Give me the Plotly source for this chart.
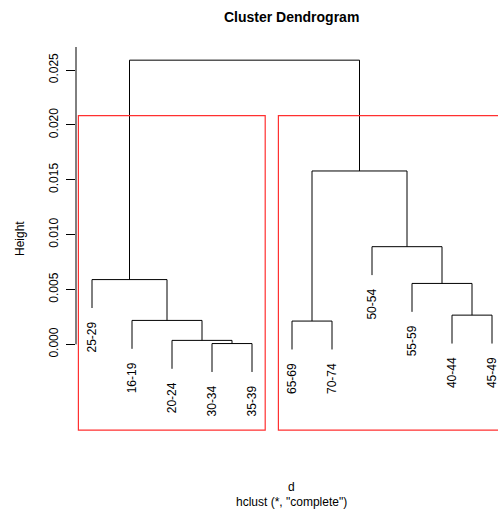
import plotly.graph_objects as go

# ---- data ----
leaf_labels = ["25-29", "16-19", "20-24", "30-34", "35-39",
               "65-69", "70-74", "50-54", "55-59", "40-44", "45-49"]
# merges: (left child, right child, height); children are leaf labels or merge ids "m#"
merge_left = ["30-34", "20-24", "16-19", "65-69", "40-44", "55-59", "25-29", "50-54", "m4", "m7"]
merge_right = ["35-39", "m1", "m2", "70-74", "45-49", "m5", "m3", "m6", "m8", "m9"]
merge_height = [0.00007, 0.00036, 0.00218, 0.00212, 0.00266, 0.00555, 0.0059, 0.0089, 0.0158, 0.0259]
cluster_sizes = [5, 6]
y_tick_vals = [0.0, 0.005, 0.010, 0.015, 0.020, 0.025]
y_tick_text = ["0.000", "0.005", "0.010", "0.015", "0.020", "0.025"]

hang = 0.1 * max(merge_height)
leaf_x = {lab: i + 1 for i, lab in enumerate(leaf_labels)}

fig = go.Figure()

node_x = {}
node_h = {}
seg_x, seg_y = [], []
leaf_bottom = {}

def child_pos(c, parent_h):
    if c in leaf_x:
        yb = parent_h - hang
        leaf_bottom[c] = yb
        return leaf_x[c], yb
    return node_x[c], node_h[c]

for i, (l, r, h) in enumerate(zip(merge_left, merge_right, merge_height)):
    xl, yl = child_pos(l, h)
    xr, yr = child_pos(r, h)
    seg_x += [xl, xl, xr, xr, None]
    seg_y += [yl, h, h, yr, None]
    nid = "m%d" % (i + 1)
    node_x[nid] = (xl + xr) / 2
    node_h[nid] = h

fig.add_trace(go.Scatter(x=seg_x, y=seg_y, mode="lines",
                         line=dict(color="black", width=1),
                         hoverinfo="skip", showlegend=False))

y_bottom = -0.0079
y_top = 0.0271

FONT = "Liberation Sans, Arial"

# leaf labels
for lab in leaf_labels:
    fig.add_annotation(x=leaf_x[lab], y=leaf_bottom[lab], text=lab,
                       textangle=-90, showarrow=False, xanchor="center",
                       yanchor="top", yshift=-12,
                       font=dict(family=FONT, size=12, color="black"))

# rect.hclust boxes
rect_top = (merge_height[-1] + merge_height[-2]) / 2
start = 0
for s in cluster_sizes:
    x0 = start + 0.66
    x1 = start + s + 0.33
    fig.add_shape(type="rect", x0=x0, x1=x1, y0=y_bottom + 0.00008, y1=rect_top,
                  xref="x", yref="y", line=dict(color="#ff3030", width=1.2),
                  fillcolor="rgba(0,0,0,0)")
    start += s

# y axis line from 0 to top
fig.add_shape(type="line", xref="paper", yref="y", x0=0, x1=0, y0=0, y1=y_top,
              line=dict(color="black", width=1))

# plot area in page pixels: x 76..498, y 47..431
fig.update_layout(
    width=498, height=518,
    margin=dict(l=76, r=0, t=47, b=87),
    plot_bgcolor="white", paper_bgcolor="white",
    showlegend=False,
    xaxis=dict(range=[0.6, 11.15], visible=False, fixedrange=True),
    yaxis=dict(range=[y_bottom, y_top], tickvals=y_tick_vals, ticktext=y_tick_text,
               tickangle=-90, ticks="outside", ticklen=9, tickcolor="black",
               ticklabelstandoff=3, fixedrange=True,
               showgrid=False, zeroline=False, showline=False,
               tickfont=dict(family=FONT, size=12, color="black")),
    font=dict(family=FONT, color="black"),
)

cx = (291 - 76) / 422
fig.add_annotation(xref="paper", yref="paper", x=cx, y=1 + (47 - 17) / 384,
                   text="<b>Cluster Dendrogram</b>", showarrow=False,
                   xanchor="center", yanchor="middle",
                   font=dict(family=FONT, size=14, color="black"))
fig.add_annotation(xref="paper", yref="paper", x=cx, y=-(487 - 431) / 384,
                   text="d", showarrow=False, xanchor="center", yanchor="middle",
                   font=dict(family=FONT, size=12, color="black"))
fig.add_annotation(xref="paper", yref="paper", x=cx, y=-(502 - 431) / 384,
                   text='hclust (*, "complete")', showarrow=False,
                   xanchor="center", yanchor="middle",
                   font=dict(family=FONT, size=12, color="black"))
fig.add_annotation(xref="paper", yref="paper", x=-(76 - 20) / 422, y=(431 - 238) / 384,
                   text="Height", textangle=-90, showarrow=False,
                   xanchor="center", yanchor="middle",
                   font=dict(family=FONT, size=12, color="black"))

fig.write_html("out.html",
               config={"displayModeBar": False},
               post_script="document.body.style.margin='0';document.body.style.overflow='hidden';")
